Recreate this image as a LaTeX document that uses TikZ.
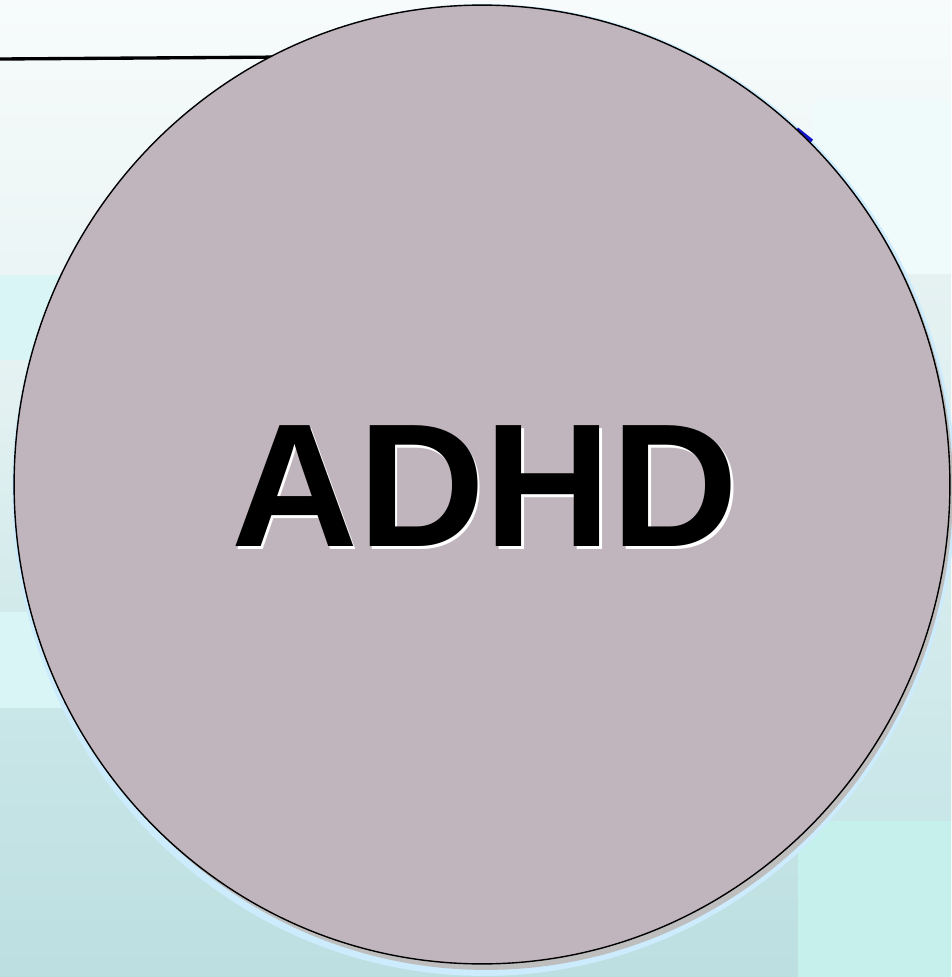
\documentclass[tikz,border=0pt]{standalone}
\usepackage{fontspec}
\usepackage{xcolor}
\usepackage{tikz}
\usetikzlibrary{shapes.geometric}
\newfontfamily\adhdFont{Liberation Sans}
\definecolor{bgWhite}  {RGB}{247,251,251}
\definecolor{bgPale}   {RGB}{235,245,245}
\definecolor{bgMid}    {RGB}{230,242,242}
\definecolor{bgLow}    {RGB}{210,234,235}
\definecolor{bgDeep}   {RGB}{201,230,232}
\definecolor{bgBottom} {RGB}{189,223,225}
\definecolor{bandCyan} {RGB}{218,245,245}
\definecolor{bandMint} {RGB}{198,240,236}
\definecolor{bandIce}  {RGB}{238,251,250}
\definecolor{adhdFill} {RGB}{192,181,188}
\definecolor{adhdGlow} {RGB}{204,235,253}
\definecolor{adhdShade}{RGB}{190,190,190}
\definecolor{adhdBlue} {RGB}{20,20,200}

\begin{document}
\begin{tikzpicture}[x=0.02cm,y=-0.02cm]
    \useasboundingbox (0,0) rectangle (951,977);

    % ── FUNDO ─────────────────────────────────────────────
    \fill[top color=bgWhite,bottom color=bgPale] (0,0) rectangle (951,275);
    \fill[bgMid] (0,275) rectangle (951,360);
    \fill[top color=bgMid,bottom color=bgLow] (0,360) rectangle (951,612);
    \fill[bgLow] (0,612) rectangle (951,708);
    \fill[top color=bgDeep,bottom color=bgBottom] (0,708) rectangle (951,977);

    \fill[bandCyan] (0,275) rectangle (480,360);
    \fill[bandCyan] (0,612) rectangle (480,708);
    \fill[bandIce] (813,101) rectangle (951,274);
    \fill[top color=bgMid,bottom color=bgDeep] (830,274) rectangle (951,821);
    \fill[bandMint] (798,821) rectangle (951,977);

    % ── LINHA SUPERIOR ────────────────────────────────────
    \coordinate (lineL) at (0,59);
    \coordinate (lineR) at (290,57);
    \draw[line width=1.9pt,black] (lineL) -- (lineR);

    % ── SOMBRAS DO CÍRCULO ────────────────────────────────
    \node[ellipse,fill=adhdGlow,inner sep=0pt,
          minimum width=18.88cm,minimum height=19.44cm] (glow) at (484,490){};
    \node[ellipse,fill=adhdShade,inner sep=0pt,
          minimum width=18.68cm,minimum height=19.24cm] (shade) at (486,489){};
    \draw[line width=2pt,adhdBlue] (797,129) -- (812,141);

    % ── CÍRCULO CENTRAL ───────────────────────────────────
    \node[ellipse,draw=black,line width=0.8pt,fill=adhdFill,inner sep=0pt,
          minimum width=18.72cm,minimum height=19.18cm] (adhd) at (482,484.5){};

    % ── TEXTO ─────────────────────────────────────────────
    \node[font=\adhdFont\bfseries\fontsize{100}{104}\selectfont,white]
      (labelShadow) at (487.5,489){ADHD};
    \node[font=\adhdFont\bfseries\fontsize{100}{104}\selectfont,black]
      (label) at (485,486.5){ADHD};

\end{tikzpicture}
\end{document}
